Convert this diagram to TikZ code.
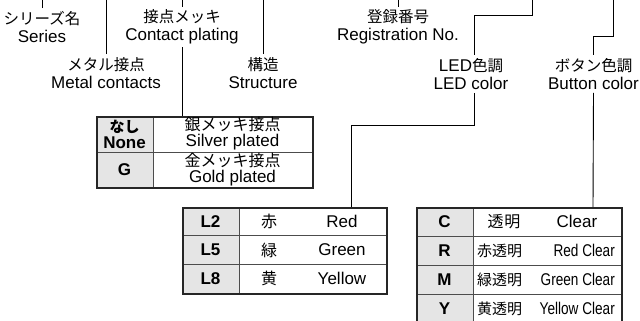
\documentclass[tikz,border=0pt]{standalone}
\usepackage{fontspec}
\setmainfont{Liberation Sans}
\newfontfamily\jp{Noto Sans CJK JP}
\usetikzlibrary{positioning}
\def\JP{\jp\fontsize{15.5}{18}\selectfont}
\def\JT{\jp\fontsize{16}{16}\selectfont}
\def\Sep#1#2{\draw[sep] (0,#1) -- (#2,#1);}

\begin{document}
\begin{tikzpicture}[x=1pt,y=-1pt,
  lbl/.style={align=center,inner xsep=0pt,inner ysep=3pt,font=\fontsize{17}{18}\selectfont},
  lead/.style={line width=0.9pt},
  frame/.style={draw=black!85,line width=1.8pt,inner sep=0pt,anchor=north west},
  sep/.style={black!70,line width=0.9pt},
  key/.style={font=\fontsize{17}{16}\selectfont\bfseries,align=center,inner sep=0pt},
  cell/.style={font=\fontsize{17}{16}\selectfont,align=center,inner sep=0pt}]
\clip (0,0) rectangle (640,321);
\fill[white] (0,0) rectangle (640,321);
% labels
\node[lbl] (series) at (42,27) {{\JP シリーズ名}\\Series};
\node[lbl] (contact) at (182,27) {{\JP 接点メッキ}\\Contact plating};
\node[lbl] (regno) at (398,27) {{\JP 登録番号}\\Registration No.};
\node[lbl] (metal) at (106,73) {{\JP メタル接点}\\Metal contacts};
\node[lbl] (struct) at (263,73) {{\JP 構造}\\Structure};
\node[lbl] (led) at (471,74) {LED{\JP 色調}\\LED color};
\node[lbl] (button) at (593.5,74) {{\JP ボタン色調}\\Button color};
\coordinate (ledtop) at (532,0);
\coordinate (btntop) at (613,0);
\draw[lead] (series.north) -- (series.north |- 0,0);
\draw[lead] (contact.north) -- (contact.north |- 0,0);
\draw[lead] (regno.north) -- (regno.north |- 0,0);
\draw[lead] (metal.north) -- (metal.north |- 0,0);
\draw[lead] (struct.north) -- (struct.north |- 0,0);
\draw[lead] (ledtop) -- ++(0,15) -| ([xshift=3pt]led.north);
\draw[lead] (btntop) -- ++(0,36) -| (button.north);
% contact plating
\begin{scope}[shift={(96,116)}]
  \fill[black!10] (0,0) rectangle (57,71);
  \Sep{36}{216}
  \draw[sep] (57,0) -- (57,71);
  \node[frame,minimum width=216pt,minimum height=71pt] (plating) at (0,0) {};
  \node[key] (none) at (28.5,18) {{\jp\fontsize{15}{16}\selectfont\bfseries なし}\\None};
  \node[key] (gold) at (28.5,53.5) {G};
  \node[cell] (silverpl) at (136.5,18) {{\JT 銀メッキ接点}\\Silver plated};
  \node[cell] (goldpl) at (136.5,53.5) {{\JT 金メッキ接点}\\Gold plated};
\end{scope}
\draw[lead] (contact.south) -- (contact.south |- plating.north);
% LED color
\begin{scope}[shift={(182,207)}]
  \fill[black!10] (0,0) rectangle (57,86);
  \Sep{28.67}{204} \Sep{57.33}{204}
  \draw[sep] (57,0) -- (57,86);
  \node[frame,minimum width=204pt,minimum height=86pt] (ledtab) at (0,0) {};
  \coordinate (ledin) at (169,0);
  \foreach \k/\j/\e [count=\i from 0] in {L2/赤/Red,L5/緑/Green,L8/黄/Yellow} {
    \node[key] (k\k) at (28.5,14.33+28.67*\i) {\k};
    \node[cell] (j\k) at (87,14.33+28.67*\i) {\JT\j};
    \node[cell] (e\k) at (160,14.33+28.67*\i) {\e};
  }
\end{scope}
\draw[lead] ([xshift=3pt]led.south) -- ([xshift=3pt]led.south |- 0,125) -| (ledin);
% button color
\begin{scope}[shift={(416,207)}]
  \fill[black!10] (0,0) rectangle (57,116);
  \Sep{29}{205} \Sep{58}{205} \Sep{87}{205}
  \draw[sep] (57,0) -- (57,116);
  \node[frame,minimum width=205pt,minimum height=116pt] (btntab) at (0,0) {};
  \coordinate (btnin) at (177,0);
  \node[key] (kC) at (28.5,14.5) {C};
  \node[cell] (jC) at (88,14.5) {\JT 透\kern1pt 明};
  \node[cell] (eC) at (161,14.5) {Clear};
  \foreach \k/\j/\e [count=\i from 1] in {R/赤透明/Red Clear,M/緑透明/Green Clear,Y/黄透明/Yellow Clear} {
    \node[key] (k\k) at (28.5,14.5+29*\i) {\k};
    \node[cell,anchor=west] (j\k) at (61,14.5+29*\i) {\jp\fontsize{15}{16}\selectfont\j};
    \node[cell,anchor=east] (e\k) at (199,14.5+29*\i) {\scalebox{0.8}[1]{\e}};
  }
\end{scope}
\draw[lead] (button.south) -- (btnin);
\end{tikzpicture}
\end{document}
